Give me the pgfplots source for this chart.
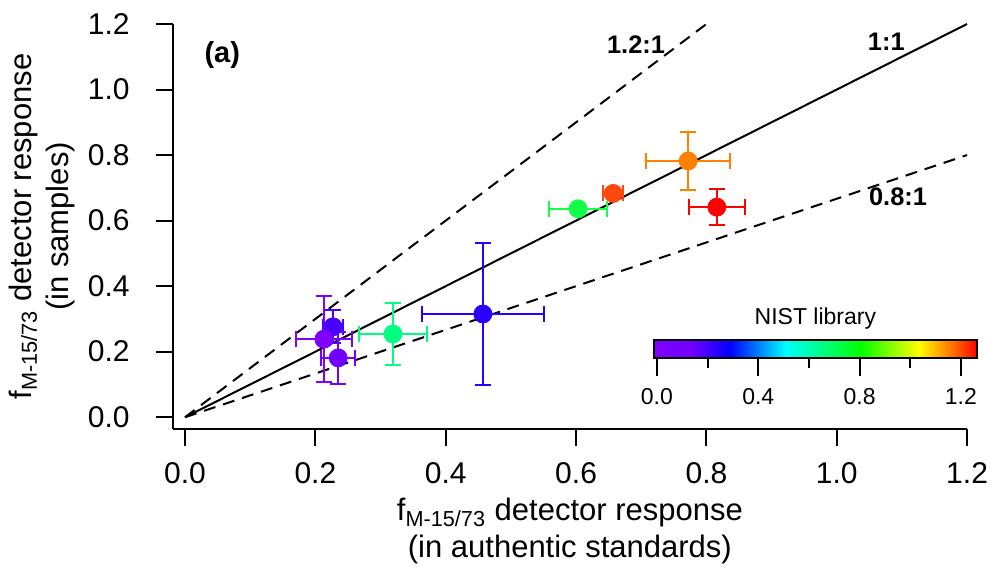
\documentclass[border=0pt]{standalone}
\usepackage{pgfplots}
\pgfplotsset{compat=1.18}
\usepackage{fontspec}
\setmainfont{Liberation Sans}
\definecolor{cOrange}{RGB}{255,128,0}
\definecolor{cRedOr}{RGB}{255,72,16}
\definecolor{cGreen}{RGB}{16,255,72}
\definecolor{cRed}{RGB}{255,0,0}
\definecolor{cBlue}{RGB}{40,0,255}
\definecolor{cSpring}{RGB}{0,255,128}
\definecolor{cPurple}{RGB}{128,0,255}
\definecolor{cBV}{RGB}{72,0,255}
\definecolor{cViolet}{RGB}{112,0,255}
\pgfplotsset{
  colormap={nist}{rgb255(0pt)=(128,0,255); rgb255(15pt)=(112,0,255); rgb255(30pt)=(0,0,255); rgb255(52pt)=(0,255,255); rgb255(81pt)=(0,255,0); rgb255(104pt)=(255,255,0); rgb255(116pt)=(255,128,0); rgb255(127pt)=(255,0,0)},
  pt/.style={only marks, mark=*, mark size=4.5pt, color=#1,
    error bars/.cd, x dir=both, x explicit, y dir=both, y explicit,
    error bar style={line width=1pt, color=#1},
    error mark options={rotate=90, mark size=4pt, line width=1pt, color=#1}},
  numfmt/.style={/pgf/number format/assume math mode=true,
    /pgf/number format/fixed, /pgf/number format/fixed zerofill,
    /pgf/number format/precision=1},
}
\begin{document}
\begin{tikzpicture}
\path[use as bounding box] (-86.35pt,-72pt) rectangle (410.15pt,214.5pt);
\begin{axis}[
  at={(0,0)}, anchor=south west,
  scale only axis,
  width=397.2pt, height=202.5pt,
  xmin=-0.019, xmax=1.2, ymin=-0.036, ymax=1.2,
  axis lines=left,
  axis line style={-, line width=1pt},
  tick align=outside,
  major tick length=8.5pt,
  tick style={line width=1pt, black},
  xtick={0,0.2,0.4,0.6,0.8,1.0,1.2}, ytick={0,0.2,0.4,0.6,0.8,1.0,1.2},
  numfmt,
  ticklabel style={font=\fontsize{15}{17}\selectfont},
  xticklabel style={yshift=-4.5pt},
  yticklabel style={xshift=-9.5pt},
  xlabel={f\textsubscript{M-15/73} detector response\\(in authentic standards)},
  ylabel={f\textsubscript{M-15/73} detector response\\(in samples)},
  label style={font=\fontsize{15.5}{18.5}\selectfont, align=center},
  xlabel style={at={(axis description cs:0.5,-0.252)}, anchor=center},
  ylabel style={at={(axis description cs:-0.165,0.5)}, anchor=center},
  clip=false,
]
\addplot[black, line width=1pt, no marks] coordinates {(0,0) (1.2,1.2)};
\addplot[black, line width=1pt, dash pattern=on 6pt off 4pt, no marks] coordinates {(0,0) (0.8,1.2)};
\addplot[black, line width=1pt, dash pattern=on 6pt off 4pt, no marks] coordinates {(0,0) (1.2,0.8)};

\addplot[pt=cBV] coordinates {(0.227,0.276) +- (0.016,0.05)};
\addplot[pt=cPurple] coordinates {(0.213,0.238) +- (0.043,0.131)};
\addplot[pt=cViolet] coordinates {(0.235,0.181) +- (0.026,0.08)};
\addplot[pt=cSpring] coordinates {(0.319,0.254) +- (0.052,0.096)};
\addplot[pt=cBlue] coordinates {(0.457,0.315) +- (0.094,0.217)};
\addplot[pt=cGreen] coordinates {(0.603,0.636) +- (0.045,0)};
\addplot[pt=cRedOr] coordinates {(0.657,0.683) +- (0.015,0.008)};
\addplot[pt=cOrange] coordinates {(0.772,0.782) +- (0.064,0.088)};
\addplot[pt=cRed] coordinates {(0.816,0.641) +- (0.043,0.055)};

\node[font=\bfseries\fontsize{14.5}{16}\selectfont] at (axis cs:0.057,1.106) {(a)};
\node[font=\bfseries\fontsize{12.7}{14}\selectfont] at (axis cs:0.692,1.136) {1.2:1};
\node[font=\bfseries\fontsize{12.7}{14}\selectfont] at (axis cs:1.076,1.145) {1:1};
\node[font=\bfseries\fontsize{12.7}{14}\selectfont] at (axis cs:1.094,0.672) {0.8:1};
\end{axis}
\begin{axis}[
  at={(240.6pt,35.5pt)}, anchor=south west,
  scale only axis, width=161.5pt, height=9pt,
  xmin=-0.012, xmax=1.263, ymin=0, ymax=1,
  axis on top,
  axis line style={line width=1pt},
  xtick={0,0.4,0.8,1.2}, minor xtick={0.2,0.6,1.0},
  xtick pos=left, ytick=\empty,
  tick align=outside,
  major tick length=9pt, minor tick length=5pt,
  tick style={line width=1pt, black},
  numfmt,
  xticklabel style={font=\fontsize{11.5}{13}\selectfont, yshift=-2.5pt},
  colormap name=nist,
  point meta min=-0.012, point meta max=1.263,
  title={NIST library},
  title style={font=\fontsize{11.5}{13}\selectfont, at={(0.5,1)}, anchor=base, yshift=1.5pt},
]
\addplot[surf, shader=interp, point meta=x, mesh/rows=2, mesh/cols=8] coordinates {
(-0.012,0) (0.138,0) (0.29,0) (0.51,0) (0.80,0) (1.03,0) (1.15,0) (1.263,0)
(-0.012,1) (0.138,1) (0.29,1) (0.51,1) (0.80,1) (1.03,1) (1.15,1) (1.263,1)
};
\end{axis}
\end{tikzpicture}
\end{document}
